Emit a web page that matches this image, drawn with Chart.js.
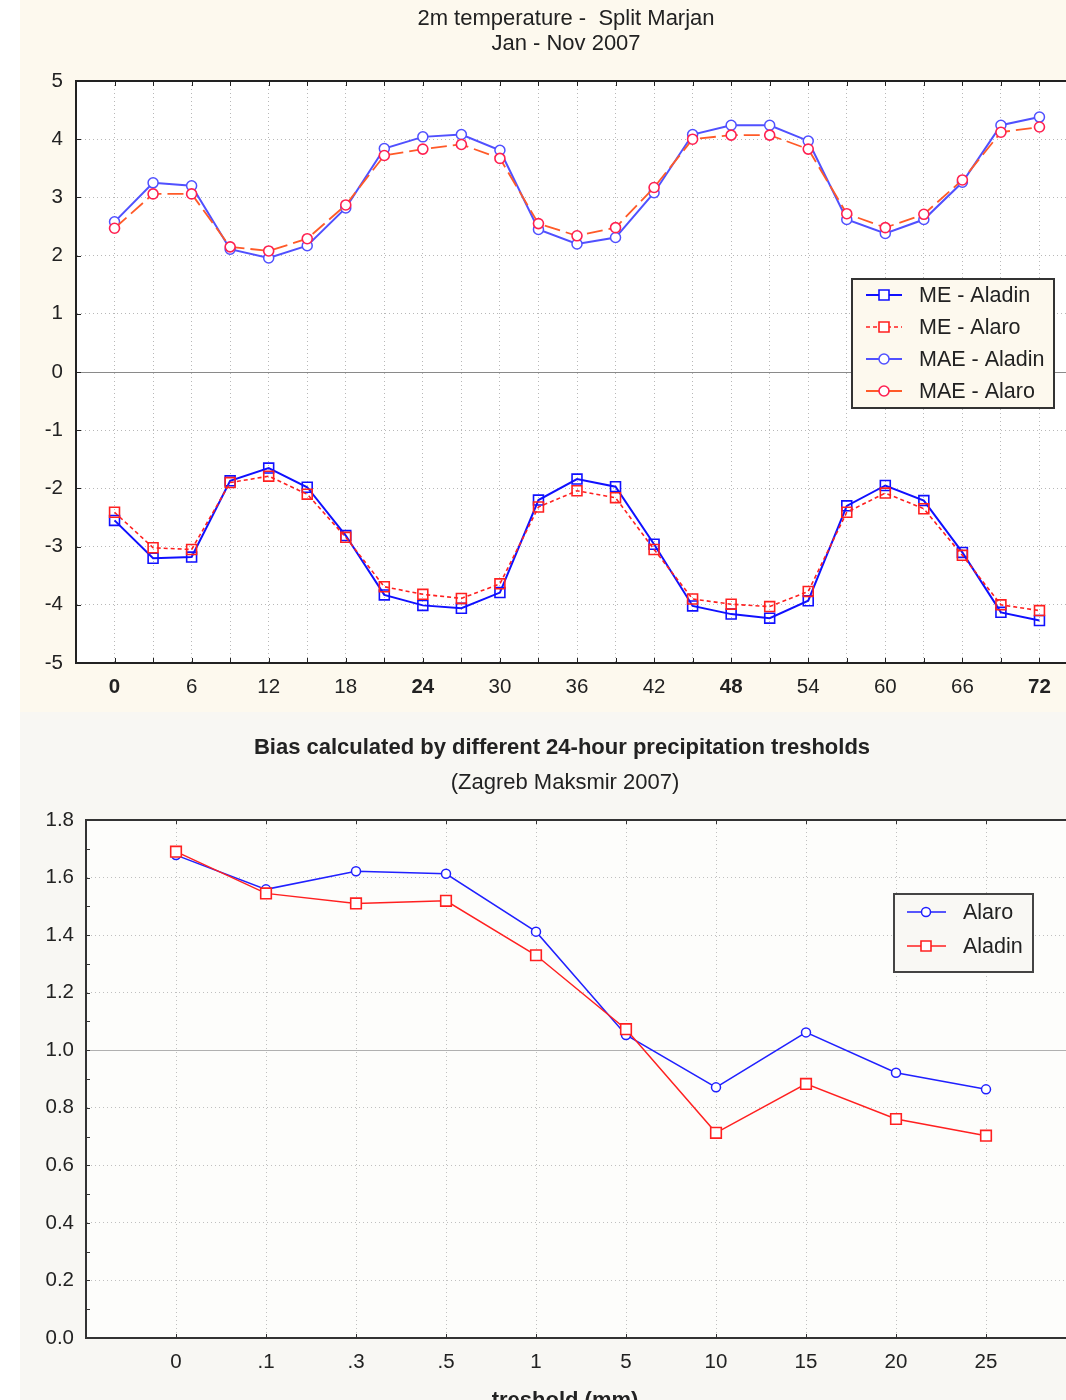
<!DOCTYPE html>
<html><head><meta charset="utf-8">
<script src="https://cdn.jsdelivr.net/npm/chart.js@4.4.1/dist/chart.umd.min.js"></script>
<style>
html,body{margin:0;padding:0;width:1066px;height:1400px;overflow:hidden;background:#fff;font-family:"Liberation Sans",Arial,sans-serif;}
#p1{position:absolute;left:20px;top:0;width:1046px;height:712px;background:#FDF9EE;}
#p2{position:absolute;left:20px;top:712px;width:1046px;height:688px;background:#F8F7F3;}
canvas{position:absolute;left:0;}
#c1{top:0}
#c2{top:712px}
.t{position:absolute;left:0;width:1132px;text-align:center;color:#222;font-size:22px;white-space:nowrap;line-height:25px}
</style>
</head><body>
<div id="p1"></div><div id="p2"></div>
<canvas id="c1" width="1100" height="712"></canvas>
<canvas id="c2" width="1100" height="688"></canvas>
<div class="t" style="top:5px">2m temperature -&nbsp; Split Marjan<br>Jan - Nov 2007</div>
<div class="t" style="top:734px;font-weight:bold;width:1124px">Bias calculated by different 24-hour precipitation tresholds</div>
<div class="t" style="top:769px;width:1130px">(Zagreb Maksmir 2007)</div>
<div class="t" style="top:1387px;width:1130px;font-weight:bold">treshold (mm)</div>
<script>
// ---- Top chart data ----
const hours = [0,3,6,9,12,15,18,21,24,27,30,33,36,39,42,45,48,51,54,57,60,63,66,69,72];
const meAladin  = [-2.55,-3.2,-3.18,-1.87,-1.65,-1.98,-2.81,-3.83,-4.01,-4.06,-3.79,-2.2,-1.84,-1.97,-2.96,-4.02,-4.16,-4.23,-3.93,-2.3,-1.95,-2.21,-3.1,-4.13,-4.27];
const meAlaro   = [-2.41,-3.02,-3.05,-1.9,-1.79,-2.1,-2.84,-3.69,-3.82,-3.89,-3.64,-2.32,-2.04,-2.16,-3.05,-3.9,-3.99,-4.03,-3.77,-2.41,-2.08,-2.35,-3.15,-4.0,-4.1];
const maeAladin = [2.58,3.25,3.2,2.11,1.96,2.17,2.82,3.84,4.04,4.08,3.81,2.45,2.2,2.31,3.08,4.08,4.24,4.24,3.97,2.62,2.38,2.62,3.26,4.24,4.38];
const maeAlaro  = [2.47,3.06,3.06,2.15,2.08,2.29,2.87,3.72,3.83,3.91,3.67,2.55,2.34,2.48,3.17,4.0,4.07,4.07,3.83,2.72,2.48,2.71,3.3,4.12,4.21];
const topLabels = ['ME - Aladin','ME - Alaro','MAE - Aladin','MAE - Alaro'];

// ---- Bottom chart data ----
const thresholds = ['0','.1','.3','.5','1','5','10','15','20','25'];
const biasAlaro  = [1.678,1.559,1.622,1.613,1.412,1.053,0.871,1.062,0.922,0.864];
const biasAladin = [1.69,1.545,1.51,1.519,1.33,1.073,0.713,0.883,0.761,0.703];
const bottomLabels = ['Alaro','Aladin'];

const FONT = '"Liberation Sans", Arial, sans-serif';
Chart.defaults.font.family = FONT;
Chart.defaults.color = '#222';

const framePlugin = {
  id: 'frame',
  beforeDraw(chart, args, o) {
    const {ctx, chartArea: a} = chart;
    ctx.save();
    ctx.fillStyle = o.bg;
    ctx.fillRect(a.left, a.top, a.right - a.left, a.bottom - a.top);
    ctx.restore();
  },
  beforeDatasetsDraw(chart, args, o) {
    const {ctx, chartArea: a, scales: {x, y}} = chart;
    ctx.save();
    const py = Math.round(y.getPixelForValue(o.refValue)) + 0.5;
    ctx.strokeStyle = o.refColor; ctx.lineWidth = 1;
    ctx.beginPath(); ctx.moveTo(a.left, py); ctx.lineTo(a.right, py); ctx.stroke();
    ctx.strokeStyle = o.borderColor; ctx.lineWidth = 2;
    ctx.beginPath(); ctx.moveTo(a.left, a.top); ctx.lineTo(a.right, a.top); ctx.stroke();
    ctx.lineWidth = 1;
    ctx.beginPath();
    for (let v = x.min; v <= x.max + 1e-9; v += o.xStep) {
      const px = Math.round(x.getPixelForValue(v)) + 0.5;
      ctx.moveTo(px, a.bottom); ctx.lineTo(px, a.bottom - o.len);
      ctx.moveTo(px, a.top); ctx.lineTo(px, a.top + o.len);
    }
    for (let i = 0; y.min + i * o.yStep <= y.max + 1e-9; i++) {
      const v = y.min + i * o.yStep;
      const p = Math.round(y.getPixelForValue(v)) + 0.5;
      ctx.moveTo(a.left, p); ctx.lineTo(a.left + o.len, p);
    }
    ctx.stroke();
    ctx.restore();
  },
  afterDatasetsDraw(chart, args, o) {
    const L = o.legend; if (!L) return;
    const ctx = chart.ctx;
    ctx.save();
    ctx.fillStyle = L.bg;
    ctx.fillRect(L.x, L.y, L.w, L.h);
    ctx.strokeStyle = L.border; ctx.lineWidth = 2;
    ctx.strokeRect(L.x, L.y, L.w, L.h);
    chart.data.datasets.forEach((ds, i) => {
      const cy = L.y + L.first + i * L.step;
      ctx.strokeStyle = ds.borderColor; ctx.lineWidth = ds.borderWidth;
      ctx.setLineDash(ds.borderDash || []);
      ctx.beginPath(); ctx.moveTo(L.x + L.l0, cy); ctx.lineTo(L.x + L.l1, cy); ctx.stroke();
      ctx.setLineDash([]);
      const mx = L.x + L.mx;
      ctx.fillStyle = '#fff'; ctx.strokeStyle = ds.pointBorderColor; ctx.lineWidth = ds.pointBorderWidth;
      ctx.beginPath();
      if (ds.pointStyle === 'rect') { const s = L.sq; ctx.rect(mx - s, cy - s, 2 * s, 2 * s); }
      else { ctx.arc(mx, cy, L.cr, 0, Math.PI * 2); }
      ctx.fill(); ctx.stroke();
      ctx.fillStyle = '#222'; ctx.font = L.font + 'px ' + FONT; ctx.textBaseline = 'middle'; ctx.textAlign = 'left';
      ctx.fillText(ds.label, L.x + L.tx, cy + 1);
    });
    ctx.restore();
  }
};

function mk(xs, ys) { return xs.map((v, i) => ({x: v, y: ys[i]})); }
const idx = thresholds.map((t, i) => i);

new Chart(document.getElementById('c1'), {
  type: 'line',
  data: {
    datasets: [
      {label: topLabels[0], data: mk(hours, meAladin), borderColor: '#1010FF', borderWidth: 2, pointStyle: 'rect', pointRadius: 7, pointBorderColor: '#1010FF', pointBorderWidth: 1.6, pointBackgroundColor: 'rgba(255,255,255,0)', order: 2},
      {label: topLabels[1], data: mk(hours, meAlaro), borderColor: '#FF2020', borderWidth: 1.6, borderDash: [4, 3], pointStyle: 'rect', pointRadius: 7, pointBorderColor: '#FF2020', pointBorderWidth: 1.6, pointBackgroundColor: 'rgba(255,255,255,0)', order: 1},
      {label: topLabels[2], data: mk(hours, maeAladin), borderColor: '#5050FF', borderWidth: 2, pointStyle: 'circle', pointRadius: 5, pointBorderColor: '#5050FF', pointBorderWidth: 1.5, pointBackgroundColor: '#fff', order: 2},
      {label: topLabels[3], data: mk(hours, maeAlaro), borderColor: '#FF5A28', borderWidth: 1.8, borderDash: [16, 6], pointStyle: 'circle', pointRadius: 5, pointBorderColor: '#FF2050', pointBorderWidth: 1.6, pointBackgroundColor: '#fff', order: 1}
    ]
  },
  options: {
    responsive: false, animation: false, events: [],
    layout: {padding: {top: 81, left: 0, right: 22, bottom: 0}},
    elements: {line: {tension: 0}},
    plugins: {
      legend: {display: false}, tooltip: {enabled: false},
      frame: {bg: '#FFFFFF', refValue: 0, refColor: '#8a8a8a', borderColor: '#222', xStep: 3, yStep: 1, len: 5,
        legend: {x: 852, y: 279, w: 202, h: 129, bg: '#FDF9EE', border: '#333', first: 16, step: 32, l0: 14, l1: 50, mx: 32, tx: 67, sq: 5, cr: 5, font: 21.5}}
    },
    scales: {
      x: {type: 'linear', min: -3, max: 75,
        afterFit: s => { s.height = 49; },
        grid: {color: '#b8b8b8', lineWidth: 1, drawTicks: false},
        border: {display: true, color: '#222', width: 2, dash: [1, 3]},
        ticks: {stepSize: 3, padding: 12, autoSkip: false, maxRotation: 0,
          callback: v => (v >= 0 && v % 6 === 0) ? String(v) : '',
          font: c => ({family: FONT, size: 20.5, weight: (c.tick && c.tick.value >= 0 && c.tick.value % 24 === 0) ? 'bold' : 'normal'})}
      },
      y: {type: 'linear', min: -5, max: 5,
        afterFit: s => { s.width = 76; },
        grid: {color: '#b8b8b8', lineWidth: 1, drawTicks: false},
        border: {display: true, color: '#222', width: 2, dash: [1, 3]},
        ticks: {stepSize: 1, padding: 13, font: {family: FONT, size: 20.5}}
      }
    }
  },
  plugins: [framePlugin]
});

new Chart(document.getElementById('c2'), {
  type: 'line',
  data: {
    datasets: [
      {label: bottomLabels[0], data: mk(idx, biasAlaro), borderColor: '#2020FF', borderWidth: 1.5, pointStyle: 'circle', pointRadius: 4.5, pointBorderColor: '#2020FF', pointBorderWidth: 1.5, pointBackgroundColor: '#fff', order: 2},
      {label: bottomLabels[1], data: mk(idx, biasAladin), borderColor: '#FF2020', borderWidth: 1.5, pointStyle: 'rect', pointRadius: 7.5, pointBorderColor: '#FF2020', pointBorderWidth: 1.6, pointBackgroundColor: '#fff', order: 1}
    ]
  },
  options: {
    responsive: false, animation: false, events: [],
    layout: {padding: {top: 108, left: 0, right: 24, bottom: 0}},
    elements: {line: {tension: 0}},
    plugins: {
      legend: {display: false}, tooltip: {enabled: false},
      frame: {bg: '#FDFDFB', refValue: 1.0, refColor: '#b0b0b0', borderColor: '#333', xStep: 1, yStep: 0.1, len: 4,
        legend: {x: 894, y: 182, w: 139, h: 78, bg: '#F9F8F4', border: '#444', first: 18, step: 34, l0: 13, l1: 52, mx: 32, tx: 69, sq: 5, cr: 4.5, font: 21.5}}
    },
    scales: {
      x: {type: 'linear', min: -1, max: 10,
        afterFit: s => { s.height = 62; },
        grid: {color: '#c0c0c0', lineWidth: 1, drawTicks: false},
        border: {display: true, color: '#333', width: 2, dash: [1, 3]},
        ticks: {stepSize: 1, padding: 12, autoSkip: false, maxRotation: 0,
          callback: v => (thresholds[v] !== undefined ? thresholds[v] : ''),
          font: {family: FONT, size: 20.5}}
      },
      y: {type: 'linear', min: 0, max: 1.8,
        afterFit: s => { s.width = 86; },
        grid: {color: '#c0c0c0', lineWidth: 1, drawTicks: false},
        border: {display: true, color: '#333', width: 2, dash: [1, 3]},
        ticks: {stepSize: 0.2, padding: 12, callback: v => Number(v).toFixed(1), font: {family: FONT, size: 20.5}}
      }
    }
  },
  plugins: [framePlugin]
});
</script>
</body></html>
